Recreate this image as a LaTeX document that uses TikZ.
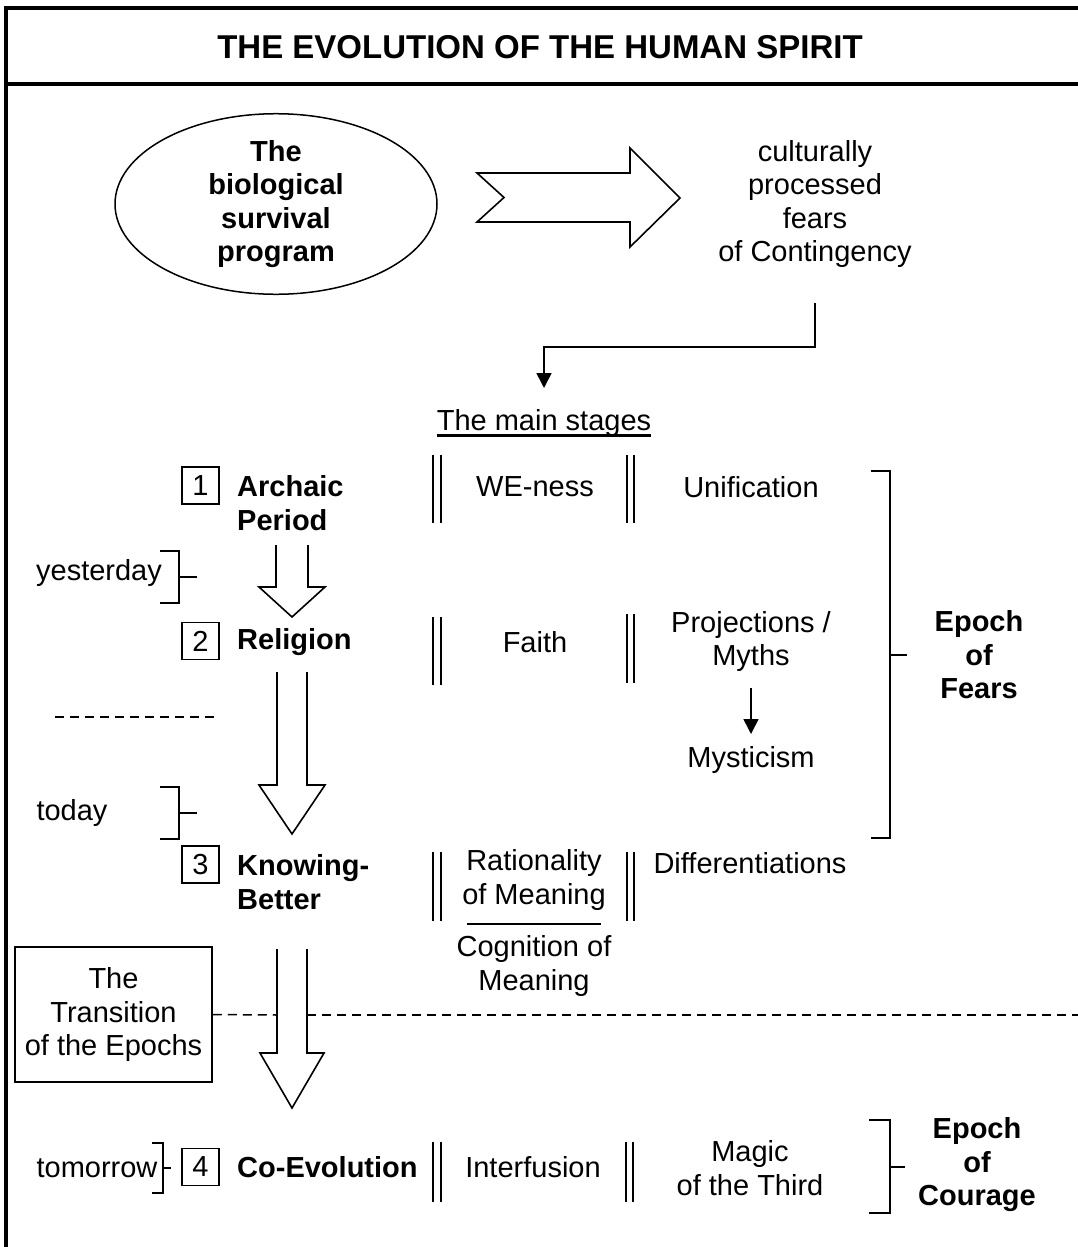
\documentclass[tikz,border=0pt]{standalone}
\usepackage{fontspec}
\setmainfont{Liberation Sans}
\usetikzlibrary{shapes.geometric,arrows.meta}
\begin{document}
\begin{tikzpicture}[x=1pt,y=-1pt,
  txt/.style={font=\fontsize{29}{33.5}\selectfont, align=center, inner sep=0pt},
  btxt/.style={font=\fontsize{29}{33.5}\selectfont\bfseries, align=center, inner sep=0pt},
  numbox/.style={draw, line width=1.5pt, minimum size=37pt, inner sep=0pt, font=\fontsize{29}{33}\selectfont},
  ln/.style={line width=1.6pt},
  framel/.style={line width=4pt},
  dashln/.style={line width=1.5pt, dash pattern=on 9pt off 6pt},
  blockarr/.style={draw, line width=1.6pt, line join=miter},
  tip/.style={-{Triangle[width=15pt,length=15pt]}}
]
\useasboundingbox (0,0) rectangle (1078,1247);
% frame
\draw[framel, line join=miter] (6,1247) -- (6,8) -- (1078,8);
\draw[framel] (6,84) -- (1078,84);
\node[btxt, font=\fontsize{33}{36}\selectfont\bfseries] (title) at (540,47) {THE EVOLUTION OF THE HUMAN SPIRIT};

% top part
\node[ellipse, draw, line width=1.5pt, minimum width=322pt, minimum height=168pt, inner sep=0pt, btxt] (bio) at (276,204) {The\\biological\\survival\\program};
\draw[blockarr] (477,173) -- (630,173) -- (630,148) -- (680,198) -- (630,247) -- (630,222) -- (477,222) -- (504,197.5) -- cycle;
\node[txt] (cpf) at (815,204) {culturally\\processed\\fears\\of Contingency};
\coordinate (e1) at (815,303);
\coordinate (e2) at (544,388);
\draw[ln, tip] (e1) -- ++(0,44) -| (e2);
\node[txt, anchor=base] (stages) at (544,430) {The main stages};
\draw[line width=3pt] ([yshift=-5pt]stages.base west) -- ([yshift=-5pt]stages.base east);

% row 1
\node[numbox] (n1) at (200.5,485.5) {1};
\node[btxt, align=left, anchor=west] (archaic) at (237,503) {Archaic\\Period};
\node[txt] (weness) at (535,487) {WE-ness};
\node[txt] (unif) at (751,487) {Unification};
\draw[ln] (433,455) -- (433,523) (441,455) -- (441,523);
\draw[ln] (627,455) -- (627,523) (634,455) -- (634,523);

% arrow 1
\draw[blockarr] (276,545) -- (276,587) -- (259,587) -- (292,617) -- (325,587) -- (308,587) -- (308,545);
% yesterday
\node[txt] (yest) at (99,573) {yesterday};
\draw[ln] (160,551) -- (179,551) -- (179,603) -- (160,603) (179,577) -- (197,577);

% row 2
\node[numbox] (n2) at (200.5,641) {2};
\node[btxt, anchor=west] (relig) at (237,642) {Religion};
\node[txt] (faith) at (535,642) {Faith};
\node[txt] (proj) at (751,641.5) {Projections /\\Myths};
\node[txt] (myst) at (751,760) {Mysticism};
\draw[ln] (433,617) -- (433,685) (441,617) -- (441,685);
\draw[ln] (627,614) -- (627,683) (634,614) -- (634,683);
\coordinate (m1) at (751,688);
\coordinate (m2) at (751,734);
\draw[ln, tip] (m1) -- (m2);

\draw[dashln] (55,717) -- (218,717);

% arrow 2
\draw[blockarr] (277,672) -- (277,785) -- (259,785) -- (292,834) -- (325,785) -- (307,785) -- (307,672);
% today
\node[txt] (today) at (72,813) {today};
\draw[ln] (160,787) -- (179,787) -- (179,839) -- (160,839) (179,813) -- (197,813);

% epoch of fears
\draw[ln] (871,471) -- (890,471) -- (890,838) -- (871,838) (890,655) -- (907,655);
\node[btxt] (fears) at (979,655) {Epoch\\of\\Fears};

% row 3
\node[numbox] (n3) at (200.5,864.5) {3};
\node[btxt, align=left, anchor=west] (know) at (237,882) {Knowing-\\Better};
\node[txt] (rat) at (534,880) {Rationality\\of Meaning};
\draw[ln] (467,924) -- (601,924);
\node[txt] (cog) at (534,966) {Cognition of\\Meaning};
\node[txt] (diff) at (750,863) {Differentiations};
\draw[ln] (433,852) -- (433,921) (441,852) -- (441,921);
\draw[ln] (627,852) -- (627,921) (634,852) -- (634,921);

% arrow 3
\draw[blockarr] (277,949) -- (277,1053) -- (260,1053) -- (292,1108) -- (324,1053) -- (307,1053) -- (307,949);

% transition
\node[draw, line width=1.5pt, minimum width=197pt, minimum height=135pt, txt] (trans) at (113.5,1014.5) {The\\Transition\\of the Epochs};
\draw[dashln] (trans.east) -- (277,1015);
\draw[dashln] (307,1015) -- (1078,1015);

% row 4
\node[numbox] (n4) at (200.5,1167) {4};
\node[btxt, anchor=west] (coevo) at (237,1167) {Co-Evolution};
\node[txt] (interf) at (533,1167) {Interfusion};
\node[txt] (magic) at (750,1168) {Magic\\of the Third};
\draw[ln] (433,1142) -- (433,1202) (441,1142) -- (441,1202);
\draw[ln] (626,1142) -- (626,1202) (633,1142) -- (633,1202);
\node[txt] (tomor) at (97,1168) {tomorrow};
\draw[ln] (152,1143) -- (163,1143) -- (163,1193) -- (152,1193) (163,1168) -- (171,1168);
\draw[ln] (869,1120) -- (890,1120) -- (890,1213) -- (869,1213) (890,1167) -- (905,1167);
\node[btxt] (courage) at (977,1165) {Epoch\\of\\Courage};
\end{tikzpicture}
\end{document}
